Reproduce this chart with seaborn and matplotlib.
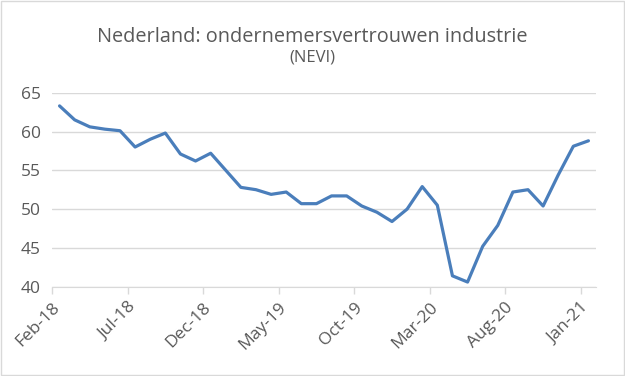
import pandas as pd
import matplotlib.pyplot as plt
import seaborn as sns
from matplotlib.patches import Rectangle

months = pd.date_range("2018-02-01", "2021-01-01", freq="MS")
nevi = [63.3, 61.5, 60.6, 60.3, 60.1, 58.0, 59.0, 59.8, 57.1, 56.2,
        57.2, 55.0, 52.8, 52.5, 51.9, 52.2, 50.7, 50.7, 51.7, 51.7,
        50.4, 49.6, 48.4, 50.0, 52.9, 50.5, 41.4, 40.6, 45.2, 47.9,
        52.2, 52.5, 50.4, 54.4, 58.1, 58.8]
tick_labels = ["Feb-18", "Jul-18", "Dec-18", "May-19", "Oct-19",
               "Mar-20", "Aug-20", "Jan-21"]

df = pd.DataFrame({"idx": range(len(nevi)), "waarde": nevi})

sns.set_style("white")
plt.rcParams["font.family"] = ["Open Sans", "DejaVu Sans"]

fig = plt.figure(figsize=(6.25, 3.76), dpi=100)
ax = fig.add_axes([52 / 625, 1 - 286.7 / 376, 544 / 625, 194 / 376])

sns.lineplot(data=df, x="idx", y="waarde", ax=ax, color="#4A7EBB", linewidth=2.3)

ax.set_xlim(-0.5, len(nevi) - 0.5)
ax.set_ylim(40, 65)
ax.set_yticks(range(40, 66, 5))
ax.yaxis.grid(True, color="#D9D9D9", linewidth=1)
ax.set_axisbelow(True)
ax.set_xticks([-0.5 + 5 * k for k in range(len(tick_labels))])
ax.set_xticklabels(tick_labels, rotation=45, ha="right", rotation_mode="anchor")
ax.tick_params(axis="x", length=5, color="#D9D9D9", width=1, labelsize=12.5,
               labelcolor="#595959", bottom=True, pad=4)
ax.tick_params(axis="y", length=0, labelsize=12.5, labelcolor="#595959", pad=8)
for side in ["top", "right", "left"]:
    ax.spines[side].set_visible(False)
ax.spines["bottom"].set_color("#D9D9D9")
ax.set_xlabel("")
ax.set_ylabel("")

fig.text(0.5, 1 - 37 / 376, "Nederland: ondernemersvertrouwen industrie",
         ha="center", va="center", fontsize=14.3, color="#595959")
fig.text(0.5, 1 - 58 / 376, "(NEVI)", ha="center", va="center",
         fontsize=12, color="#595959")

fig.patches.append(Rectangle((0.002, 0.003), 0.996, 0.994, transform=fig.transFigure,
                             fill=False, edgecolor="#D9D9D9", linewidth=1))

fig.savefig("out.png", dpi=100)
